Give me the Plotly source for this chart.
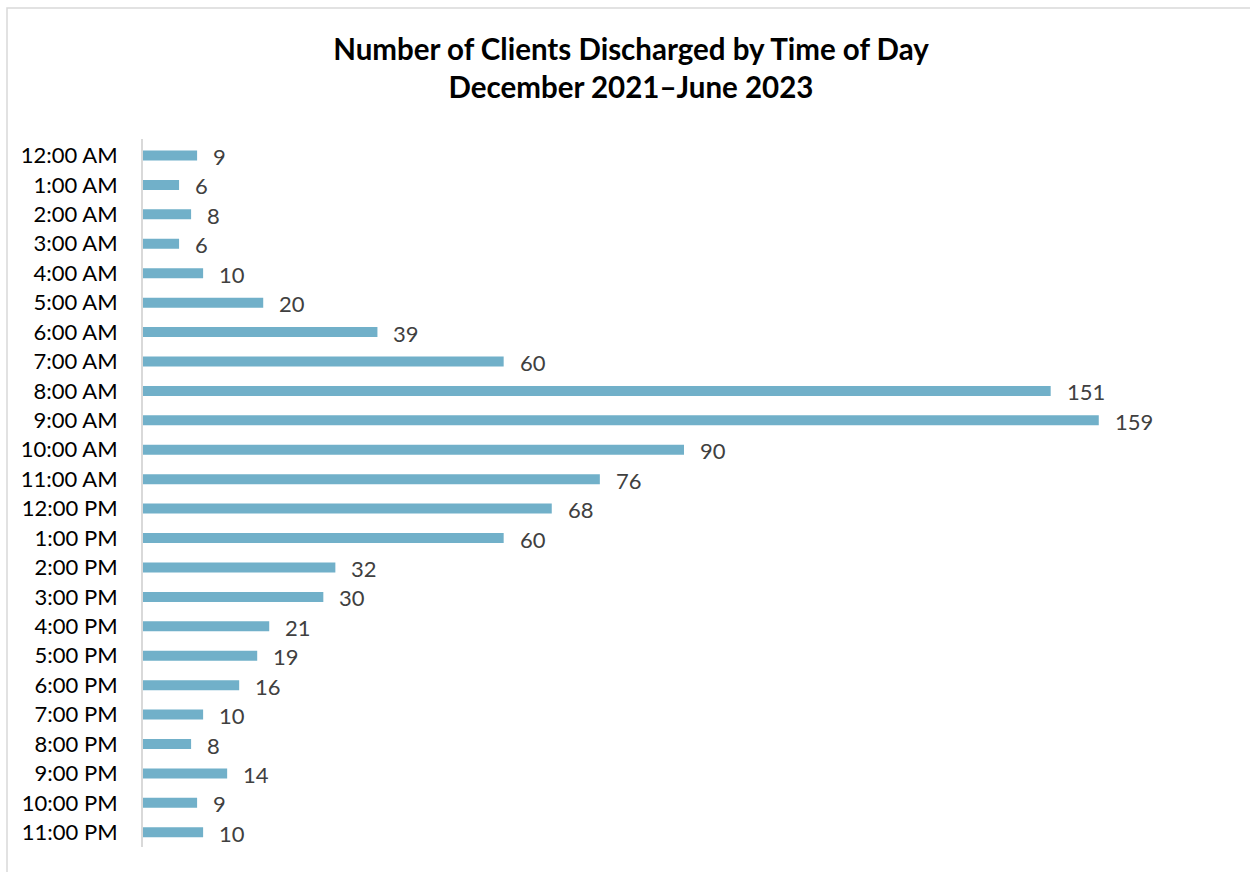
import plotly.graph_objects as go

hours = [
    "12:00 AM", "1:00 AM", "2:00 AM", "3:00 AM", "4:00 AM", "5:00 AM",
    "6:00 AM", "7:00 AM", "8:00 AM", "9:00 AM", "10:00 AM", "11:00 AM",
    "12:00 PM", "1:00 PM", "2:00 PM", "3:00 PM", "4:00 PM", "5:00 PM",
    "6:00 PM", "7:00 PM", "8:00 PM", "9:00 PM", "10:00 PM", "11:00 PM",
]
discharges = [9, 6, 8, 6, 10, 20, 39, 60, 151, 159, 90, 76,
              68, 60, 32, 30, 21, 19, 16, 10, 8, 14, 9, 10]

title_lines = ["Number of Clients Discharged by Time of Day",
               "December 2021\u2013June 2023"]

BAR_COLOR = "#71B0C9"
LABEL_COLOR = "#404040"
FONT = "Lato, Open Sans, sans-serif"

fig = go.Figure()
fig.add_trace(go.Bar(
    x=discharges,
    y=hours,
    orientation="h",
    width=0.34,
    marker=dict(color=BAR_COLOR, line=dict(width=0)),
    hoverinfo="x+y",
))

# value labels to the right of each bar
for h, v in zip(hours, discharges):
    fig.add_annotation(
        x=v, y=h, text=str(v), showarrow=False,
        xanchor="left", yanchor="middle", xshift=14, yshift=-1,
        font=dict(family=FONT, size=22, color=LABEL_COLOR),
    )

# chart frame
fig.add_shape(
    type="rect", xref="paper", yref="paper",
    x0=-0.1257, x1=1.2, y0=-0.2, y1=1.185,
    line=dict(color="#D9D9D9", width=1.5), fillcolor="rgba(0,0,0,0)",
    layer="below",
)

fig.update_layout(
    width=1250, height=872,
    margin=dict(l=143, r=25, t=139, b=25),
    paper_bgcolor="white", plot_bgcolor="white",
    showlegend=False,
    title=dict(
        text="<br>".join(title_lines),
        x=0.5048, xanchor="center", y=0.9315, yanchor="middle",
        font=dict(family=FONT, size=29.5, color="black", weight="bold"),
    ),
    xaxis=dict(
        range=[0, 180], visible=False, fixedrange=True,
    ),
    yaxis=dict(
        autorange="reversed",
        showline=True, linecolor="#D9D9D9", linewidth=2,
        showgrid=False, ticks="", ticklabelstandoff=19,
        tickfont=dict(family=FONT, size=22, color="black"),
        zeroline=False,
    ),
)

fig.write_html("out.html")
